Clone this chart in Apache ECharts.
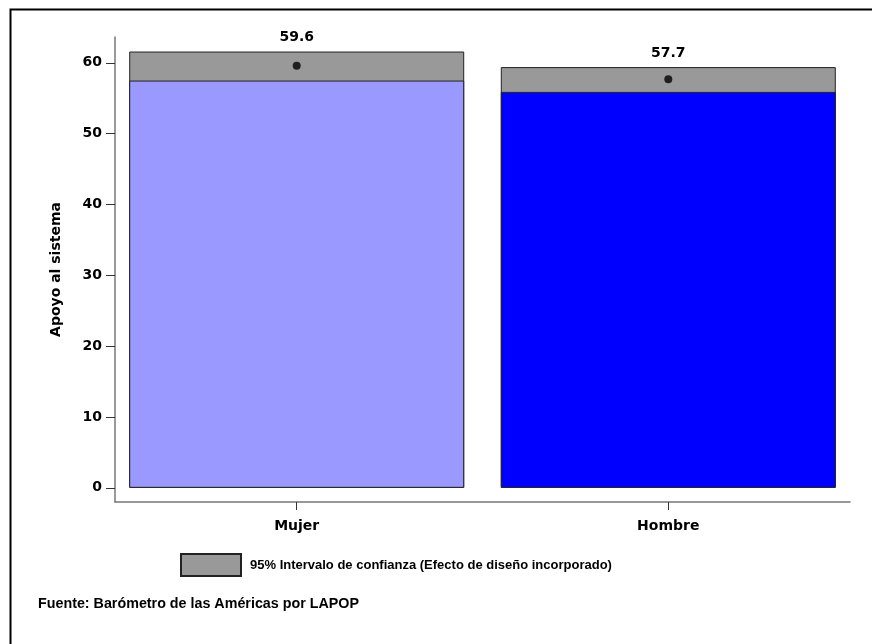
<!DOCTYPE html>
<html>
<head>
<meta charset="utf-8">
<script src="https://cdn.jsdelivr.net/npm/echarts@6/dist/echarts.min.js"></script>
<style>
  html, body { margin: 0; padding: 0; background: #fff; }
  #chart { width: 872px; height: 644px; }
</style>
</head>
<body>
<div id="chart"></div>
<script>
// categorías (posición 1 y 2 en el eje x)
const categories = ['Mujer', 'Hombre']
const catPos = [1, 2]
// media de cada grupo
const means = [59.6, 57.7]
// límites del intervalo de confianza
const ciLow = [57.5, 55.9]
const ciHigh = [61.6, 59.4]
const barColors = ['#9999ff', '#0000ff']
const yTicks = [0, 10, 20, 30, 40, 50, 60]

const font = '"Liberation Sans", Arial, sans-serif'
const wideFont = '"DejaVu Sans", sans-serif'

const chart = echarts.init(document.getElementById('chart'))

chart.setOption({
  animation: false,
  textStyle: { fontFamily: font },
  title: {
    text: 'Fuente: Barómetro de las Américas por LAPOP',
    left: 33,
    top: 592,
    textStyle: { fontSize: 14.3, fontWeight: 'bold', color: '#000', fontFamily: font }
  },
  legend: {
    data: ['95% Intervalo de confianza (Efecto de diseño incorporado)'],
    left: 180,
    top: 553,
    padding: 0,
    itemWidth: 60,
    itemHeight: 22,
    icon: 'rect',
    itemGap: 10,
    selectedMode: false,
    textStyle: { fontSize: 13, fontWeight: 'bold', color: '#000', fontFamily: font, padding: [0, 0, 0, 4] }
  },
  graphic: [
    {
      type: 'rect',
      left: 8,
      top: 7,
      shape: { width: 900, height: 700 },
      style: { fill: 'none', stroke: '#000', lineWidth: 2 },
      silent: true
    }
  ],
  grid: { left: 115, right: 22, top: 37, bottom: 142 },
  xAxis: {
    type: 'value',
    min: 0.511,
    max: 2.489,
    splitLine: { show: false },
    axisLine: { onZero: false, lineStyle: { color: '#777', width: 1.5 } },
    axisTick: { show: true, length: 8, customValues: catPos, lineStyle: { color: '#333' } },
    axisLabel: {
      margin: 17,
      fontSize: 14,
      fontWeight: 'bold',
      color: '#000',
      fontFamily: wideFont,
      customValues: catPos,
      formatter: v => categories[catPos.indexOf(Math.round(v))]
    }
  },
  yAxis: {
    type: 'value',
    min: -2,
    max: 63.65,
    name: 'Apoyo al sistema',
    nameLocation: 'middle',
    nameRotate: 90,
    nameGap: 52,
    nameTextStyle: { fontSize: 14, fontWeight: 'bold', color: '#000', fontFamily: wideFont },
    axisLine: { show: true, onZero: false, lineStyle: { color: '#777', width: 1.5 } },
    axisTick: { show: true, length: 9, customValues: yTicks, lineStyle: { color: '#333' } },
    axisLabel: { margin: 13, fontSize: 14, fontWeight: 'bold', color: '#000', fontFamily: wideFont, customValues: yTicks },
    splitLine: { show: false }
  },
  series: [
    {
      // intervalo de confianza: barra gris hasta el límite superior, tapada abajo por la barra de color
      name: '95% Intervalo de confianza (Efecto de diseño incorporado)',
      type: 'bar',
      barWidth: 335,
      barGap: '-100%',
      data: ciHigh.map((v, i) => [catPos[i], v]),
      itemStyle: { color: '#999999', borderColor: '#222', borderWidth: 1 },
      label: {
        show: true,
        position: 'top',
        distance: 7,
        fontSize: 14,
        fontWeight: 'bold',
        color: '#000',
        fontFamily: wideFont,
        formatter: p => means[p.dataIndex].toFixed(1)
      }
    },
    {
      name: 'base',
      type: 'bar',
      barWidth: 335,
      barGap: '-100%',
      data: ciLow.map((v, i) => ({
        value: [catPos[i], v],
        itemStyle: { color: barColors[i] }
      })),
      itemStyle: { borderColor: '#222', borderWidth: 1 }
    },
    {
      name: 'media',
      type: 'scatter',
      data: means.map((v, i) => [catPos[i], v]),
      symbolSize: 8,
      itemStyle: { color: '#000' },
      z: 5
    }
  ]
})
</script>
</body>
</html>
